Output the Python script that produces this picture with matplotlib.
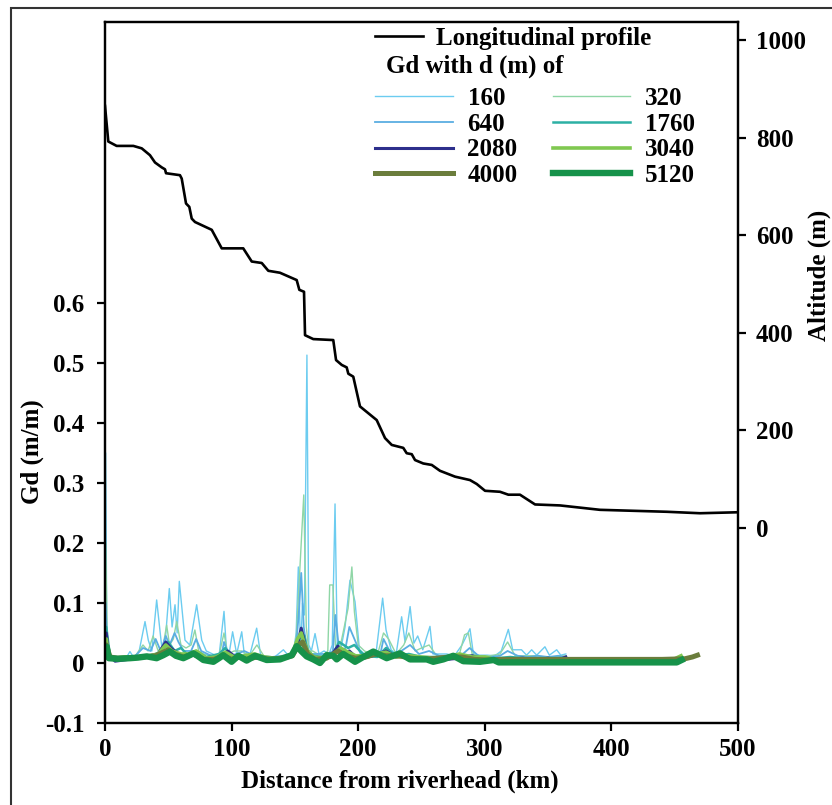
import matplotlib
matplotlib.use("Agg")
import matplotlib.pyplot as plt
from matplotlib.patches import Rectangle

# longitudinal profile (altitude, m)
prof_km = [0, 2.6, 9.2, 22.4, 29.0, 35.5, 39.5, 44.8, 47.4, 48.2,
           59.2, 60.6, 64.0, 66.6, 68.5, 71.1, 84.3, 92.2, 109.2, 115.9,
           123.8, 129.0, 138.2, 151.4, 153.5, 157.2, 158.0, 164.5, 180.3, 182.5,
           187.0, 190.9, 192.2, 196.1, 201.4, 214.6, 221.2, 226.5, 235.6, 238.3,
           242.3, 244.9, 251.4, 258.1, 264.6, 276.5, 288.3, 293.6, 300.2, 312.0,
           318.6, 327.8, 339.7, 359.4, 391.0, 443.7, 470.0, 500]
prof_alt = [865, 792, 783, 783, 778, 764, 749, 739, 735, 727,
            723, 716, 665, 658, 634, 627, 611, 573, 573, 546,
            543, 527, 523, 508, 488, 484, 395, 387, 385, 344,
            334, 329, 316, 310, 249, 221, 184, 170, 164, 153,
            151, 139, 132, 129, 117, 105, 98, 90, 76, 74,
            68, 68, 48, 46, 37, 33, 30, 32]

# Gd series, one per window size d
d160_km = [0, 0.5, 1.5, 4, 8, 12, 16, 19.7, 23, 27,
           31.6, 34.2, 37, 40.8, 44.8, 47, 50.8, 53, 55.3, 57,
           58.7, 63.2, 67, 72.4, 76.4, 80, 85, 90, 94, 96,
           98, 100.8, 104, 108, 110, 114, 119.8, 123, 128, 134,
           140.9, 145, 149, 151, 152.7, 154.5, 156, 157.5, 159.5, 161,
           163, 165.9, 169, 173, 177, 179.5, 181.7, 183.5, 186, 189.6,
           193.5, 197.5, 201, 205, 210, 214, 219.3, 222, 226, 230,
           234.3, 237, 241, 244, 247, 251, 256.7, 259, 265, 270,
           276, 282, 288.3, 291, 296, 302, 308, 313, 318.6, 322,
           329, 333, 337, 341, 347.5, 351, 356.8, 360, 364]
d160_gd = [0.03, 0.35, 0.02, 0.008, 0.005, 0.01, 0.006, 0.019, 0.008, 0.02,
           0.069, 0.038, 0.02, 0.105, 0.027, 0.02, 0.124, 0.06, 0.097, 0.05,
           0.136, 0.038, 0.03, 0.097, 0.038, 0.02, 0.015, 0.01, 0.086, 0.02,
           0.015, 0.052, 0.015, 0.052, 0.015, 0.01, 0.058, 0.012, 0.01, 0.01,
           0.022, 0.012, 0.02, 0.05, 0.16, 0.02, 0.1, 0.08, 0.513, 0.03,
           0.02, 0.049, 0.015, 0.02, 0.015, 0.03, 0.265, 0.02, 0.02, 0.06,
           0.138, 0.102, 0.022, 0.015, 0.015, 0.015, 0.108, 0.055, 0.022, 0.015,
           0.077, 0.035, 0.094, 0.033, 0.045, 0.022, 0.061, 0.015, 0.015, 0.015,
           0.012, 0.03, 0.057, 0.015, 0.013, 0.013, 0.012, 0.02, 0.056, 0.022,
           0.022, 0.013, 0.022, 0.013, 0.027, 0.013, 0.022, 0.013, 0.015]

d320_km = [0, 0.5, 2, 6, 12, 18, 24, 30, 34, 38,
           42, 46, 48.7, 51, 54, 56.6, 60, 64, 68, 71,
           74, 78, 84, 90, 94, 97, 102, 108, 114, 120,
           126, 132, 138, 144, 148, 151, 153, 155, 157, 159,
           161, 164, 168, 172, 176, 177.5, 180, 182, 185, 188,
           192, 195, 197, 200, 205, 210, 216, 220, 224, 230,
           236, 240, 245, 250, 256, 262, 268, 274, 280, 284,
           287, 290, 296, 304, 312, 318, 324, 332, 340, 348,
           356, 364]
d320_gd = [0.02, 0.2, 0.02, 0.01, 0.008, 0.01, 0.012, 0.03, 0.02, 0.045,
           0.02, 0.03, 0.063, 0.03, 0.04, 0.069, 0.03, 0.025, 0.03, 0.055,
           0.02, 0.015, 0.012, 0.012, 0.05, 0.015, 0.02, 0.02, 0.012, 0.03,
           0.01, 0.01, 0.01, 0.012, 0.015, 0.04, 0.12, 0.2, 0.28, 0.06,
           0.02, 0.02, 0.015, 0.012, 0.02, 0.13, 0.13, 0.03, 0.02, 0.05,
           0.091, 0.16, 0.085, 0.03, 0.02, 0.015, 0.02, 0.05, 0.04, 0.015,
           0.03, 0.05, 0.02, 0.025, 0.03, 0.012, 0.012, 0.01, 0.015, 0.047,
           0.05, 0.015, 0.012, 0.012, 0.015, 0.035, 0.012, 0.012, 0.012, 0.01,
           0.01, 0.012]

d640_km = [0, 0.5, 2, 8, 16, 24, 30, 36, 40, 44,
           48, 51, 55, 58, 62, 68, 72, 76, 84, 92,
           94, 98, 104, 110, 118, 124, 132, 140, 148, 151,
           153, 155, 157, 159, 162, 168, 176, 180, 182, 185,
           190, 193, 197, 202, 210, 218, 220, 226, 234, 241,
           248, 256, 264, 272, 280, 288, 296, 304, 312, 318,
           326, 334, 342, 350, 358, 364]
d640_gd = [0.02, 0.1, 0.015, 0.008, 0.01, 0.012, 0.025, 0.02, 0.04, 0.02,
           0.045, 0.03, 0.05, 0.035, 0.02, 0.02, 0.04, 0.02, 0.012, 0.012,
           0.035, 0.012, 0.015, 0.02, 0.012, 0.012, 0.01, 0.012, 0.015, 0.03,
           0.08, 0.15, 0.06, 0.03, 0.015, 0.015, 0.015, 0.02, 0.08, 0.02,
           0.025, 0.06, 0.04, 0.015, 0.012, 0.02, 0.04, 0.015, 0.02, 0.03,
           0.015, 0.02, 0.012, 0.012, 0.01, 0.025, 0.01, 0.01, 0.012, 0.02,
           0.012, 0.01, 0.012, 0.01, 0.012, 0.01]

d1760_km = [0, 1, 4, 10, 20, 30, 40, 45, 50, 55,
            60, 66, 72, 80, 90, 95, 100, 110, 120, 130,
            140, 148, 152, 155, 157.5, 160, 165, 172, 180, 185,
            192, 197, 205, 215, 222, 230, 240, 250, 260, 270,
            280, 290, 300, 310, 320, 330, 340, 350, 364]
d1760_gd = [0.03, 0.06, 0.01, 0.006, 0.008, 0.01, 0.015, 0.02, 0.035, 0.02,
            0.025, 0.012, 0.02, 0.01, 0.015, 0.025, 0.01, 0.01, 0.012, 0.008,
            0.01, 0.015, 0.03, 0.05, 0.045, 0.02, 0.012, 0.01, 0.015, 0.035,
            0.025, 0.03, 0.012, 0.01, 0.025, 0.012, 0.015, 0.01, 0.01, 0.008,
            0.012, 0.012, 0.008, 0.008, 0.01, 0.008, 0.008, 0.008, 0.008]

d2080_km = [0, 1, 3, 8, 15, 25, 35, 42, 48, 52,
            58, 64, 70, 76, 84, 92, 97, 104, 112, 120,
            130, 140, 148, 152, 155, 157, 159, 163, 170, 178,
            184, 188, 193, 200, 208, 216, 222, 230, 238, 246,
            254, 262, 270, 280, 290, 300, 310, 320, 330, 340,
            350, 358, 364]
d2080_gd = [0.02, 0.05, 0.012, 0.003, 0.005, 0.008, 0.012, 0.015, 0.035, 0.025,
            0.015, 0.012, 0.018, 0.008, 0.005, 0.01, 0.02, 0.008, 0.01, 0.008,
            0.008, 0.008, 0.012, 0.03, 0.058, 0.04, 0.02, 0.008, 0.005, 0.01,
            0.028, 0.015, 0.02, 0.006, 0.01, 0.015, 0.02, 0.01, 0.012, 0.008,
            0.005, 0.008, 0.006, 0.008, 0.012, 0.005, 0.003, 0.006, 0.008, 0.005,
            0.008, 0.005, 0.01]

d3040_km = [0, 1, 3, 8, 15, 25, 35, 42, 48, 53,
            60, 66, 72, 80, 88, 95, 102, 110, 118, 126,
            134, 142, 148, 152, 155, 157, 160, 165, 172, 180,
            186, 192, 198, 206, 214, 222, 230, 240, 250, 260,
            270, 280, 290, 300, 310, 320, 340, 360, 380, 400,
            420, 440, 450, 455]
d3040_gd = [0.02, 0.04, 0.01, 0.008, 0.01, 0.01, 0.012, 0.015, 0.03, 0.02,
            0.015, 0.015, 0.02, 0.008, 0.01, 0.018, 0.01, 0.012, 0.015, 0.01,
            0.008, 0.01, 0.015, 0.04, 0.05, 0.035, 0.02, 0.01, 0.008, 0.012,
            0.025, 0.018, 0.012, 0.012, 0.015, 0.018, 0.01, 0.012, 0.01, 0.008,
            0.01, 0.015, 0.01, 0.01, 0.005, 0.006, 0.006, 0.006, 0.006, 0.006,
            0.006, 0.006, 0.007, 0.012]

d4000_km = [0, 1, 4, 10, 20, 30, 40, 50, 55, 62,
            70, 78, 86, 94, 100, 106, 112, 120, 130, 140,
            148, 153, 156, 160, 166, 175, 184, 190, 198, 206,
            214, 222, 232, 242, 252, 262, 272, 282, 292, 302,
            312, 330, 360, 400, 440, 458, 464, 468]
d4000_gd = [0.02, 0.03, 0.01, 0.008, 0.008, 0.01, 0.012, 0.022, 0.015, 0.01,
            0.015, 0.006, 0.006, 0.012, 0.006, 0.01, 0.006, 0.01, 0.006, 0.008,
            0.012, 0.03, 0.035, 0.015, 0.006, 0.008, 0.02, 0.012, 0.008, 0.01,
            0.015, 0.012, 0.012, 0.008, 0.006, 0.008, 0.01, 0.01, 0.006, 0.005,
            0.006, 0.006, 0.006, 0.006, 0.006, 0.007, 0.01, 0.013]

d5120_km = [0, 1.3, 3, 10, 19.7, 26, 33, 40.8, 46, 51.3,
            56, 61.9, 66, 69.8, 73, 77.7, 85.6, 90, 93.4, 100,
            105.3, 111.9, 118.5, 127.7, 138.2, 147.5, 151.4, 155.4, 159.3, 164.5,
            169.8, 175.1, 180.3, 183, 188.2, 197.5, 204, 211.9, 222.5, 233,
            240.9, 254.1, 259.3, 267.2, 275.1, 283, 296.2, 307, 311, 350,
            400, 451.6, 455.5]
d5120_gd = [0.02, 0.027, 0.008, 0.007, 0.008, 0.009, 0.011, 0.008, 0.013, 0.019,
            0.012, 0.008, 0.012, 0.016, 0.012, 0.005, 0.002, 0.008, 0.013, 0.002,
            0.012, 0.004, 0.012, 0.005, 0.006, 0.013, 0.028, 0.019, 0.011, 0.006,
            0.0, 0.013, 0.012, 0.006, 0.015, 0.002, 0.01, 0.019, 0.008, 0.016,
            0.006, 0.006, 0.002, 0.006, 0.012, 0.003, 0.002, 0.005, 0.001, 0.001,
            0.001, 0.001, 0.005]

d_labels = ["160", "320", "640", "1760", "2080", "3040", "4000", "5120"]
d_colors = ["#6cccf0", "#8fd6a6", "#5aaee2", "#2cb0a4",
            "#2d2f8c", "#80c850", "#6b7d3c", "#16924a"]
d_widths = [1.0, 1.0, 1.3, 1.8, 2.2, 2.6, 3.6, 4.6]
gd_series = [(d160_km, d160_gd), (d320_km, d320_gd), (d640_km, d640_gd),
             (d1760_km, d1760_gd), (d2080_km, d2080_gd), (d3040_km, d3040_gd),
             (d4000_km, d4000_gd), (d5120_km, d5120_gd)]

plt.rcParams['font.family'] = ['Liberation Serif', 'DejaVu Serif']
plt.rcParams['font.weight'] = 'bold'
plt.rcParams['font.size'] = 18

fig = plt.figure(figsize=(8.32, 8.05), dpi=100)
ax = fig.add_axes([105 / 832, 1 - 723 / 805, 633 / 832, 701 / 805])
ax2 = ax.twinx()

lines = []
for (xs, ys), lab, col, lw in zip(gd_series, d_labels, d_colors, d_widths):
    ln, = ax.plot(xs, ys, color=col, lw=lw, label=lab, solid_joinstyle='round')
    lines.append(ln)

prof, = ax2.plot(prof_km, prof_alt, color='black', lw=1.9)

ax.set_xlim(0, 500)
ax.set_ylim(-0.1, 1.068)
ax2.set_ylim(-400, 1037)

ax.set_xticks([0, 100, 200, 300, 400, 500])
ax.set_yticks([-0.1, 0, 0.1, 0.2, 0.3, 0.4, 0.5, 0.6])
ax.set_yticklabels(["-0.1", "0", "0.1", "0.2", "0.3", "0.4", "0.5", "0.6"])
ax2.set_yticks([0, 200, 400, 600, 800, 1000])

for a in (ax, ax2):
    for s in a.spines.values():
        s.set_linewidth(1.6)
ax.tick_params(direction='out', length=6, width=1.6, pad=5, labelsize=18)
ax.tick_params(axis='y', pad=9)
ax2.tick_params(direction='out', length=6, width=1.6, pad=7, labelsize=18)

ax.set_xlabel("Distance from riverhead (km)", fontsize=18, fontweight='bold')
ax.xaxis.set_label_coords(0.466, -0.066)
ax.set_ylabel("Gd (m/m)", fontsize=18, fontweight='bold')
ax.yaxis.set_label_coords(-0.097, 0.387)
ax2.set_ylabel("Altitude (m)", fontsize=18, fontweight='bold')
ax2.yaxis.set_label_coords(1.11, 0.639)

# legend: profile line, header, then the Gd grid
fig.legend([prof], ["Longitudinal profile"], loc='upper left',
           bbox_to_anchor=(375 / 832, 1 - 27 / 805), frameon=False,
           borderpad=0, borderaxespad=0, handlelength=1.9, handletextpad=0.55,
           prop={'weight': 'bold', 'size': 18})
fig.text(386 / 832, 1 - 66 / 805, "Gd with d (m) of", ha='left', va='center',
         fontsize=18, fontweight='bold')
order = [0, 2, 4, 6, 1, 3, 5, 7]
fig.legend([lines[i] for i in order], [d_labels[i] for i in order], ncol=2,
           loc='upper left', bbox_to_anchor=(375 / 832, 1 - 87 / 805),
           frameon=False, borderpad=0, borderaxespad=0, handlelength=3.1,
           handletextpad=0.6, columnspacing=1.4, labelspacing=0.11,
           prop={'weight': 'bold', 'size': 18})

# outer frame around the figure
fig.add_artist(Rectangle((11 / 832, -0.02), 1.0, 1 - 8 / 805 + 0.02,
                         transform=fig.transFigure, fill=False,
                         edgecolor='#333333', lw=1.5, clip_on=False))

fig.savefig("out.png", dpi=100)
